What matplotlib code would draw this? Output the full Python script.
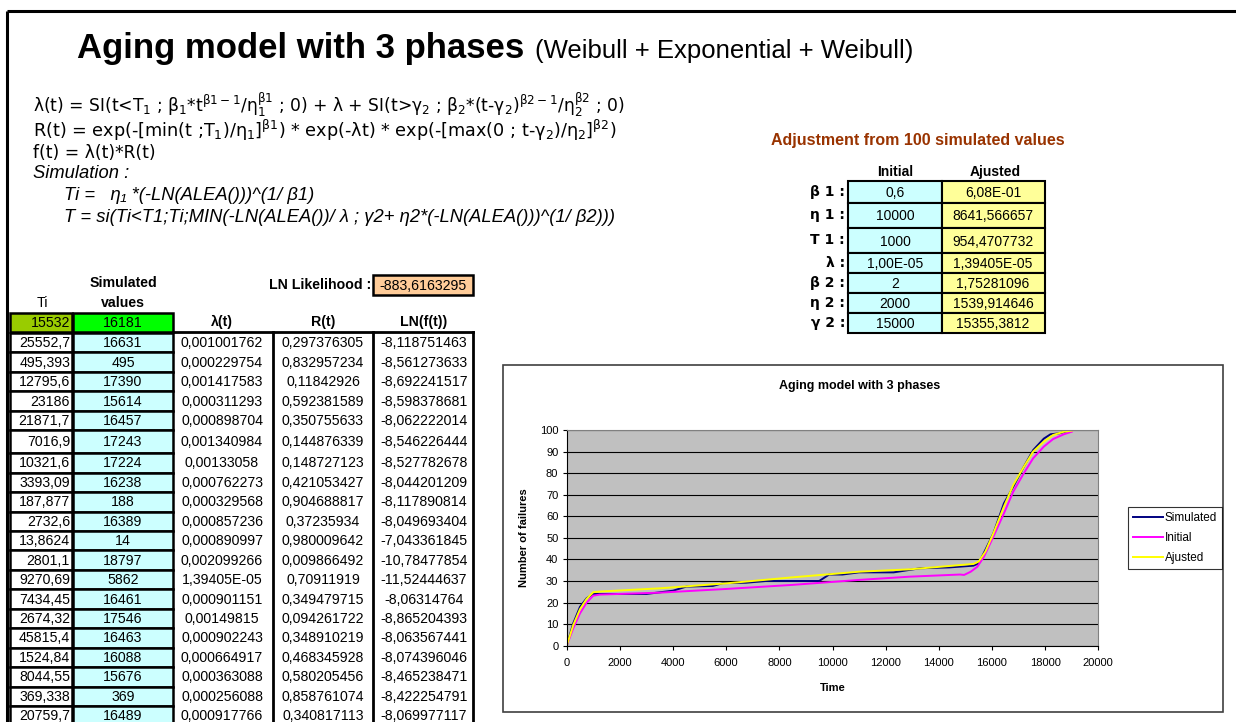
import matplotlib.pyplot as plt
from matplotlib.patches import Rectangle

plt.rcParams['font.family'] = ['Liberation Sans', 'DejaVu Sans']
plt.rcParams['mathtext.default'] = 'regular'

# ---- left table (spreadsheet values, kept as text) ----
ti_first, sim_first = '15532', '16181'
ti_vals = ['25552,7', '495,393', '12795,6', '23186', '21871,7', '7016,9', '10321,6',
           '3393,09', '187,877', '2732,6', '13,8624', '2801,1', '9270,69', '7434,45',
           '2674,32', '45815,4', '1524,84', '8044,55', '369,338', '20759,7']
sim_vals = ['16631', '495', '17390', '15614', '16457', '17243', '17224', '16238', '188',
            '16389', '14', '18797', '5862', '16461', '17546', '16463', '16088', '15676',
            '369', '16489']
lam_vals = ['0,001001762', '0,000229754', '0,001417583', '0,000311293', '0,000898704',
            '0,001340984', '0,00133058', '0,000762273', '0,000329568', '0,000857236',
            '0,000890997', '0,002099266', '1,39405E-05', '0,000901151', '0,00149815',
            '0,000902243', '0,000664917', '0,000363088', '0,000256088', '0,000917766']
r_vals = ['0,297376305', '0,832957234', '0,11842926', '0,592381589', '0,350755633',
          '0,144876339', '0,148727123', '0,421053427', '0,904688817', '0,37235934',
          '0,980009642', '0,009866492', '0,70911919', '0,349479715', '0,094261722',
          '0,348910219', '0,468345928', '0,580205456', '0,858761074', '0,340817113']
lnf_vals = ['-8,118751463', '-8,561273633', '-8,692241517', '-8,598378681', '-8,062222014',
            '-8,546226444', '-8,527782678', '-8,044201209', '-8,117890814', '-8,049693404',
            '-7,043361845', '-10,78477854', '-11,52444637', '-8,06314764', '-8,865204393',
            '-8,063567441', '-8,074396046', '-8,465238471', '-8,422254791', '-8,069977117']
ln_likelihood = '-883,6163295'

# ---- parameter table ----
param_labels = ['β 1 :', 'η 1 :', 'T 1 :', 'λ :', 'β 2 :', 'η 2 :', 'γ 2 :']
param_initial = ['0,6', '10000', '1000', '1,00E-05', '2', '2000', '15000']
param_adjusted = ['6,08E-01', '8641,566657', '954,4707732', '1,39405E-05',
                  '1,75281096', '1539,914646', '15355,3812']

# ---- chart curves ----
t_sim = [0, 250, 500, 750, 1000, 1250, 3000, 4000, 4500, 5500, 5875, 6750, 7500, 9500,
         9875, 10375, 11000, 12300, 13300, 14400, 15300, 15500, 15750, 16050, 16450,
         16800, 17200, 17550, 17950, 18200, 18550, 19000]
n_sim = [0, 10.5, 18, 22, 24, 24, 24, 25.5, 27.4, 27.7, 29, 29.2, 30, 30, 33, 33, 34, 34,
         35.9, 36.3, 37.1, 38.2, 44.4, 52, 66, 73.7, 83, 90.7, 96, 98, 98.5, 100]
t_init = [0, 250, 500, 750, 1000, 1250, 3500, 6000, 8500, 11000, 12900, 14800, 14950,
          15200, 15450, 15700, 16050, 16450, 16800, 17200, 17550, 17950, 18300, 18700, 19000]
n_init = [0, 8.2, 15, 20, 23.2, 23.7, 24.6, 26.3, 28.2, 30.5, 32, 33, 32.8, 34.3, 36.6,
          41.3, 50.5, 61.4, 71.4, 80, 86.9, 92.3, 95.8, 98, 99.2]
t_adj = [0, 250, 500, 750, 1000, 1250, 3500, 6000, 8500, 11000, 12900, 15300, 15500,
         15750, 16050, 16450, 16800, 17200, 17550, 17950, 18300, 18700, 19000]
n_adj = [0, 9.7, 16.9, 21.7, 24.8, 25.1, 26.6, 28.9, 31.7, 34.3, 35.4, 37.9, 39, 43.6,
         52, 64.5, 74.5, 83, 90, 94.6, 97.7, 99.2, 99.7]

W, H = 1236, 722
fig = plt.figure(figsize=(W / 100, H / 100), dpi=100)
bg = fig.add_axes([0, 0, 1, 1])
bg.set_xlim(0, W)
bg.set_ylim(H, 0)
bg.axis('off')

# page frame
bg.plot([7, W], [11, 11], color='black', lw=2.2, solid_capstyle='butt')
bg.plot([7, 7], [11, H], color='black', lw=2.2, solid_capstyle='butt')

# title
bg.text(77, 58, 'Aging model with 3 phases', fontsize=25, fontweight='bold', va='baseline')
bg.text(535, 58, '(Weibull + Exponential + Weibull)', fontsize=18.5, va='baseline')

# formulas
fml = dict(family=['DejaVu Sans'], va='center')
bg.text(33, 105, r'λ(t) = SI(t<T$_1$ ; β$_1$*t$^{\beta1-1}$/η$_1^{\beta1}$ ; 0) + λ + '
        r'SI(t>γ$_2$ ; β$_2$*(t-γ$_2$)$^{\beta2-1}$/η$_2^{\beta2}$ ; 0)', fontsize=12.3, **fml)
bg.text(33, 130, r'R(t) = exp(-[min(t ;T$_1$)/η$_1$]$^{\beta1}$) * exp(-λt) * '
        r'exp(-[max(0 ; t-γ$_2$)/η$_2$]$^{\beta2}$)', fontsize=12.7, **fml)
bg.text(33, 153, 'f(t) = λ(t)*R(t)', fontsize=12.3, **fml)
ita = dict(fontsize=13.2, style='italic', va='center')
bg.text(33, 174, 'Simulation :', **ita)
bg.text(64, 196, 'Ti =   η\u2081 *(-LN(ALEA()))^(1/ β1)', **ita)
bg.text(64, 218, 'T = si(Ti<T1;Ti;MIN(-LN(ALEA())/ λ ; γ2+ η2*(-LN(ALEA()))^(1/ β2)))', **ita)

# ---- parameter table ----
bg.text(918, 141, 'Adjustment from 100 simulated values', color='#993300',
        fontsize=11.5, fontweight='bold', ha='center', va='center')
bg.text(895, 172, 'Initial', fontsize=10, fontweight='bold', ha='center', va='center')
bg.text(995, 172, 'Ajusted', fontsize=10, fontweight='bold', ha='center', va='center')
p_edges = [181, 203, 228, 253, 273, 293, 313, 333]
for i, lab in enumerate(param_labels):
    y0, y1 = p_edges[i], p_edges[i + 1]
    yc = (y0 + y1) / 2
    bg.add_patch(Rectangle((848, y0), 94, y1 - y0, facecolor='#CCFFFF',
                           edgecolor='black', lw=1.5))
    bg.add_patch(Rectangle((942, y0), 103, y1 - y0, facecolor='#FFFF99',
                           edgecolor='black', lw=1.5))
    bg.text(845, yc, lab, fontsize=10, fontweight='bold', ha='right', va='center',
            family=['DejaVu Sans'])
    bg.text(895, yc + 1, param_initial[i], fontsize=10, ha='center', va='center')
    bg.text(993, yc + 1, param_adjusted[i], fontsize=10, ha='center', va='center')

# ---- left data table ----
tfs = 10.2
bg.text(123, 283, 'Simulated', fontsize=tfs, fontweight='bold', ha='center', va='center')
bg.text(123, 303, 'values', fontsize=tfs, fontweight='bold', ha='center', va='center')
bg.text(42, 303, 'Ti', fontsize=tfs, ha='center', va='center')
bg.text(371, 285, 'LN Likelihood :', fontsize=tfs, fontweight='bold', ha='right', va='center')
bg.add_patch(Rectangle((373, 275), 100, 20, facecolor='#FFCC99', edgecolor='black', lw=1.8))
bg.text(423, 286, ln_likelihood, fontsize=tfs, ha='center', va='center')

bg.add_patch(Rectangle((10, 313), 62, 19, facecolor='#99CC00', edgecolor='black', lw=1.8))
bg.add_patch(Rectangle((73, 313), 100, 19, facecolor='#00FF00', edgecolor='black', lw=1.8))
bg.text(70, 323, ti_first, fontsize=tfs, ha='right', va='center')
bg.text(123, 323, sim_first, fontsize=tfs, ha='center', va='center')
for x, s in [(222, 'λ(t)'), (323, 'R(t)'), (424, 'LN(f(t))')]:
    bg.text(x, 322, s, fontsize=tfs, fontweight='bold', ha='center', va='center')
bg.plot([173, 473], [332, 332], color='black', lw=2)

pitch = 19.45
for i in range(len(ti_vals)):
    top = 333 + i * pitch + (3.5 if i >= 6 else 0)
    h = pitch + (3.5 if i == 5 else 0)
    yc = top + h / 2 + 0.5
    bg.add_patch(Rectangle((10, top), 62, h, facecolor='white', edgecolor='black', lw=1.8))
    bg.add_patch(Rectangle((73, top), 100, h, facecolor='#CCFFFF', edgecolor='black', lw=1.8))
    bg.text(70, yc, ti_vals[i], fontsize=tfs, ha='right', va='center')
    bg.text(123, yc, sim_vals[i], fontsize=tfs, ha='center', va='center')
    bg.text(222, yc, lam_vals[i], fontsize=tfs, ha='center', va='center')
    bg.text(323, yc, r_vals[i], fontsize=tfs, ha='center', va='center')
    bg.text(424, yc, lnf_vals[i], fontsize=tfs, ha='center', va='center')
for x in [273, 373, 473]:
    bg.plot([x, x], [332, H], color='black', lw=2)

# ---- chart ----
bg.add_patch(Rectangle((503, 365), 720, 347, facecolor='white', edgecolor='#404040', lw=1.2))
bg.text(860, 386, 'Aging model with 3 phases', fontsize=9, fontweight='bold',
        ha='center', va='center')

L, R_, T, B = 566.7, 1098.3, 430, 645.7
ax = fig.add_axes([L / W, 1 - B / H, (R_ - L) / W, (B - T) / H])
ax.set_facecolor('#C0C0C0')
ax.plot(t_sim, n_sim, color='#000080', lw=1.4, label='Simulated')
ax.plot(t_init, n_init, color='#FF00FF', lw=1.4, label='Initial')
ax.plot(t_adj, n_adj, color='#FFFF00', lw=1.4, label='Ajusted')
ax.set_xlim(0, 20000)
ax.set_ylim(0, 100)
ax.set_xticks(range(0, 20001, 2000))
ax.set_yticks(range(0, 101, 10))
ax.yaxis.grid(True, color='black', lw=0.8)
ax.set_axisbelow(True)
ax.tick_params(labelsize=8, length=3, width=0.8, direction='out', pad=6)
ax.tick_params(axis='y', pad=3)
for s in ['top', 'right']:
    ax.spines[s].set_color('#808080')
for s in ['left', 'bottom']:
    ax.spines[s].set_color('black')
    ax.spines[s].set_linewidth(0.8)
ax.set_xlabel('Time', fontsize=8, fontweight='bold', labelpad=11)
ax.set_ylabel('Number of failures', fontsize=8, fontweight='bold', labelpad=8)
leg = ax.legend(loc='upper left', bbox_to_anchor=(1128 / W, 1 - 507 / H),
                bbox_transform=fig.transFigure, borderaxespad=0, fontsize=8.5,
                frameon=True, fancybox=False, edgecolor='black', handlelength=2.5,
                handletextpad=0.15, labelspacing=0.65, borderpad=0.45)
leg.get_frame().set_linewidth(0.8)

fig.savefig('out.png', dpi=100)
